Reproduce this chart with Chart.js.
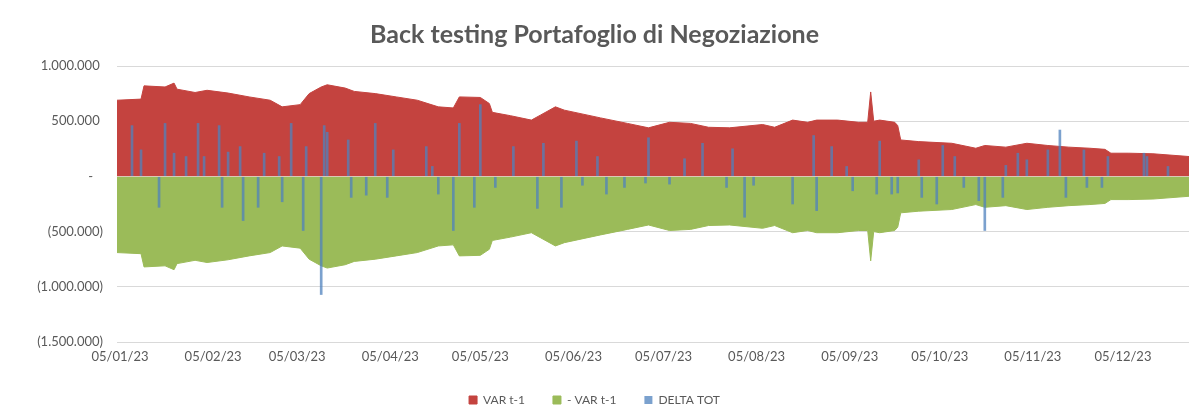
<!DOCTYPE html>
<html>
<head>
<meta charset="utf-8">
<script src="https://cdn.jsdelivr.net/npm/chart.js@4.4.1/dist/chart.umd.min.js"></script>
<style>
  html, body { margin: 0; padding: 0; background: #fff; }
  #wrap { width: 1189px; height: 416px; }
</style>
</head>
<body>
<div id="wrap"><canvas id="chart"></canvas></div>
<script>
// dates are 2023, written as MM-DD
const varDates = ['01-04','01-12','01-13','01-20','01-23','01-24','01-30','02-03','02-10','02-17','02-24','02-28',
  '03-06','03-09','03-13','03-15','03-21','03-24','03-31','04-07','04-14','04-21','04-26','04-28',
  '05-05','05-08','05-09','05-15','05-22','05-25','05-30','06-02','06-14','06-23','06-30','07-07',
  '07-14','07-20','07-27','08-07','08-11','08-17','08-22','08-25','09-01','09-08','09-11','09-12',
  '09-13','09-15','09-20','09-21','09-22','09-28','10-09','10-17','10-20','10-27','11-03','11-10',
  '11-17','11-24','11-29','12-01','12-07','12-15','12-27'];
const varValues = [690000,700000,820000,810000,845000,790000,760000,780000,755000,720000,690000,630000,
  650000,750000,810000,830000,800000,770000,750000,720000,690000,630000,620000,720000,
  715000,660000,580000,550000,510000,555000,630000,600000,530000,480000,440000,490000,
  480000,445000,440000,470000,445000,510000,490000,510000,510000,490000,490000,765000,
  500000,510000,490000,460000,330000,315000,300000,255000,280000,265000,300000,280000,
  265000,255000,245000,210000,210000,205000,180000];

const deltaDates = ['01-09','01-12','01-18','01-20','01-23','01-27','01-31','02-02','02-07','02-08','02-10','02-14',
  '02-15','02-20','02-22','02-27','02-28','03-03','03-07','03-08','03-13','03-14','03-15','03-22',
  '03-23','03-28','03-31','04-04','04-06','04-17','04-19','04-21','04-26','04-28','05-03','05-05',
  '05-10','05-16','05-24','05-26','06-01','06-06','06-08','06-13','06-16','06-22','06-29','06-30',
  '07-07','07-12','07-18','07-26','07-28','08-01','08-04','08-17','08-24','08-25','08-30','09-04',
  '09-06','09-14','09-15','09-19','09-21','09-28','09-29','10-04','10-06','10-10','10-13','10-18',
  '10-20','10-26','10-27','10-31','11-03','11-10','11-14','11-16','11-22','11-23','11-28','11-30',
  '12-12','12-13','12-20'];
const deltaValues = [460000,240000,-280000,480000,210000,180000,480000,180000,460000,-280000,220000,270000,
  -400000,-280000,210000,180000,-230000,480000,-490000,270000,-1070000,460000,400000,330000,
  -190000,-170000,480000,-190000,240000,270000,90000,-160000,-490000,480000,-280000,650000,
  -100000,270000,-290000,300000,-280000,320000,-80000,180000,-160000,-100000,-60000,350000,
  -70000,160000,300000,-100000,250000,-370000,-80000,-250000,370000,-310000,270000,90000,
  -130000,-160000,320000,-160000,-150000,150000,-190000,-250000,280000,180000,-100000,-220000,
  -490000,-190000,100000,210000,150000,240000,420000,-190000,240000,-100000,-100000,180000,
  210000,180000,90000];

const tickLabels = ['05/01/23','05/02/23','05/03/23','05/04/23','05/05/23','05/06/23',
  '05/07/23','05/08/23','05/09/23','05/10/23','05/11/23','05/12/23'];
const seriesNames = ['VAR t-1', '- VAR t-1', 'DELTA TOT'];

const DAY = 86400000;
const jan1 = Date.UTC(2023, 0, 1);
function dayNum(md) {
  const [m, d] = md.split('-').map(Number);
  return (Date.UTC(2023, m - 1, d) - jan1) / DAY;
}
function tickDay(lbl) {
  const [d, m, y] = lbl.split('/').map(Number);
  return (Date.UTC(2000 + y, m - 1, d) - jan1) / DAY;
}
function dayLabel(n) {
  const dt = new Date(jan1 + n * DAY);
  const dd = String(dt.getUTCDate()).padStart(2, '0');
  const mm = String(dt.getUTCMonth() + 1).padStart(2, '0');
  return dd + '/' + mm + '/' + String(dt.getUTCFullYear()).slice(2);
}
function fmt(v) {
  return String(Math.abs(v)).replace(/\B(?=(\d{3})+(?!\d))/g, '.');
}

const varPoints = varDates.map((d, i) => ({ x: dayNum(d), y: varValues[i] }));
const negVarPoints = varDates.map((d, i) => ({ x: dayNum(d), y: -varValues[i] }));
const deltaPoints = deltaDates.map((d, i) => ({ x: dayNum(d), y: deltaValues[i] }));

const font = 'Lato, "Open Sans", sans-serif';
const grey = '#595959';

// thin axis line at zero, drawn over the areas like the Excel horizontal axis
const zeroLine = {
  id: 'zeroLine',
  afterDatasetsDraw(chart) {
    const { ctx, chartArea, scales } = chart;
    const y = Math.round(scales.y.getPixelForValue(0)) + 0.5;
    ctx.save();
    ctx.strokeStyle = 'rgba(230,210,200,0.8)';
    ctx.lineWidth = 1;
    ctx.beginPath();
    ctx.moveTo(chartArea.left, y);
    ctx.lineTo(chartArea.right, y);
    ctx.stroke();
    ctx.restore();
  }
};

new Chart(document.getElementById('chart'), {
  type: 'bar',
  data: {
    datasets: [
      {
        type: 'line',
        label: seriesNames[0],
        data: varPoints,
        backgroundColor: '#C4433F',
        borderColor: '#C4433F',
        borderWidth: 1,
        pointRadius: 0,
        tension: 0,
        fill: 'origin',
        order: 2
      },
      {
        type: 'line',
        label: seriesNames[1],
        data: negVarPoints,
        backgroundColor: '#9BBB59',
        borderColor: '#9BBB59',
        borderWidth: 1,
        pointRadius: 0,
        tension: 0,
        fill: 'origin',
        order: 1
      },
      {
        type: 'bar',
        label: seriesNames[2],
        data: deltaPoints,
        backgroundColor: 'rgba(79,129,189,0.75)',
        borderWidth: 0,
        barThickness: 2,
        grouped: false,
        order: 0
      }
    ]
  },
  options: {
    responsive: true,
    maintainAspectRatio: false,
    animation: false,
    layout: { padding: { left: 0, right: 0, top: 0, bottom: 0 } },
    plugins: {
      title: {
        display: true,
        text: 'Back testing Portafoglio di Negoziazione',
        color: grey,
        font: { family: font, size: 25, weight: 'bold' },
        padding: { top: 20, bottom: 16 }
      },
      legend: {
        position: 'bottom',
        labels: {
          color: grey,
          font: { family: font, size: 12 },
          boxWidth: 8,
          boxHeight: 8,
          padding: 28,
          sort: (a, b) => a.datasetIndex - b.datasetIndex
        }
      },
      tooltip: { enabled: false }
    },
    scales: {
      x: {
        type: 'linear',
        min: dayNum('01-04'),
        max: dayNum('12-27'),
        offset: false,
        grid: { display: false, drawTicks: false, offset: false },
        border: { display: false },
        afterBuildTicks: s => { s.ticks = tickLabels.map(l => ({ value: tickDay(l) })); },
        afterFit: s => { s.height = 24; },
        ticks: {
          autoSkip: false,
          maxRotation: 0,
          padding: 7,
          color: grey,
          font: { family: font, size: 13 },
          callback: v => dayLabel(v)
        }
      },
      y: {
        min: -1500000,
        max: 1000000,
        grid: { color: '#D9D9D9', drawTicks: false },
        border: { display: false },
        afterFit: s => { s.width = 117; },
        ticks: {
          stepSize: 500000,
          padding: 14,
          color: grey,
          font: { family: font, size: 13 },
          callback: v => v === 0 ? '-   ' : (v < 0 ? '(' + fmt(v) + ')' : fmt(v) + ' ')
        }
      }
    }
  },
  plugins: [zeroLine]
});
</script>
</body>
</html>
